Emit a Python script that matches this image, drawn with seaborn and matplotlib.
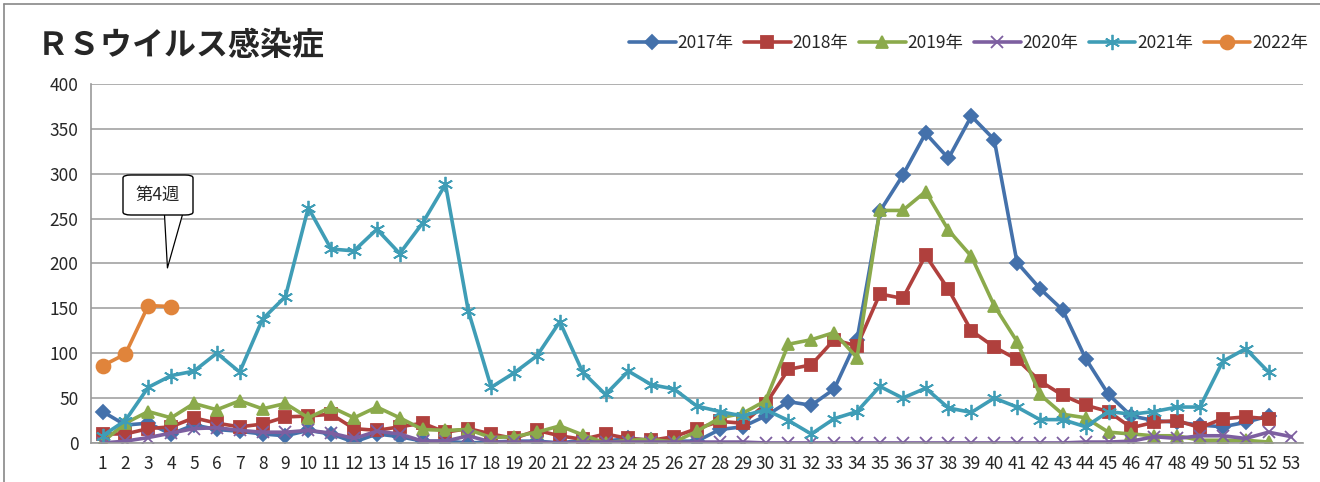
import numpy as np
import pandas as pd
import matplotlib
matplotlib.use("Agg")
import matplotlib.pyplot as plt
import seaborn as sns
from matplotlib.lines import Line2D
from matplotlib.patches import FancyBboxPatch

weeks = list(range(1, 54))

y2017 = [35, 20, 22, 10, 20, 15, 13, 10, 8, 14, 10, 1, 10, 7, 2, 2, 0, 1, 2, 2,
         0, 3, 2, 5, 3, 2, 2, 15, 18, 30, 46, 42, 60, 115, 258, 298, 345, 317, 364, 338,
         201, 172, 148, 94, 54, 30, 25, 23, 20, 18, 23, 30]
y2018 = [10, 10, 16, 18, 28, 22, 18, 21, 29, 30, 32, 16, 14, 18, 22, 12, 16, 10, 5, 14,
         8, 4, 10, 5, 3, 7, 16, 24, 22, 43, 82, 87, 115, 108, 166, 161, 209, 171, 125, 107,
         93, 69, 53, 42, 35, 17, 23, 25, 17, 27, 29, 27]
y2019 = [1, 22, 35, 28, 44, 37, 47, 38, 44, 28, 40, 28, 40, 28, 15, 14, 15, 6, 7, 12,
         19, 9, 0, 3, 4, 1, 13, 28, 33, 47, 110, 115, 123, 95, 259, 259, 280, 237, 208, 153,
         113, 54, 32, 28, 12, 10, 8, 8, 3, 3, 3, 1]
y2020 = [0, 2, 6, 11, 16, 17, 14, 12, 12, 14, 11, 5, 13, 10, 2, 2, 8, 1, 1, 1,
         0, 1, 1, 1, 1, 1, 1, 1, 1, 0, 0, 0, 0, 0, 0, 0, 0, 0, 0, 0,
         0, 0, 0, 1, 1, 2, 7, 5, 8, 8, 5, 12, 7]
y2021 = [8, 25, 62, 75, 80, 100, 79, 138, 163, 262, 216, 214, 238, 211, 245, 288, 147, 62, 78, 97,
         135, 79, 54, 80, 65, 60, 41, 35, 30, 37, 25, 10, 27, 35, 63, 50, 61, 39, 34, 50,
         40, 26, 26, 18, 35, 32, 35, 40, 40, 91, 105, 79]
y2022 = [86, 99, 153, 152]

series_names = ["2017年", "2018年", "2019年", "2020年", "2021年", "2022年"]
series_vals = [y2017, y2018, y2019, y2020, y2021, y2022]
colors = ["#4471AB", "#B0403D", "#8BAA4B", "#7D5FA0", "#3F9DB6", "#E0843B"]
markers = ["D", "s", "^", "x", (6, 2, 0), "o"]
msizes = [7, 9, 9, 9, 11, 10]

sns.set_theme(style="white")
plt.rcParams['font.family'] = ['Noto Sans CJK JP', 'DejaVu Sans']

fig = plt.figure(figsize=(13.2, 4.82), dpi=100)
ax = fig.add_axes([0.069, 0.081, 0.918, 0.745])

for name, vals, c, m, ms in zip(series_names, series_vals, colors, markers, msizes):
    df = pd.DataFrame({"week": weeks[:len(vals)], "count": vals})
    sns.lineplot(data=df, x="week", y="count", ax=ax, color=c, marker=m,
                 markersize=ms, linewidth=2.6, markeredgecolor=c,
                 markeredgewidth=1.3, label=name)

ax.set_xlim(0.5, 53.5)
ax.set_ylim(0, 400)
ax.set_yticks(np.arange(0, 401, 50))
ax.set_xticks(weeks)
ax.set_xticklabels([str(w) for w in weeks])
ax.set_xticks(np.arange(0.5, 54, 1), minor=True)
ax.tick_params(axis="x", which="major", length=0, pad=9, labelsize=12.5)
ax.tick_params(axis="x", which="minor", length=5, width=1, color="#999999", direction="out")
ax.tick_params(axis="y", which="major", length=5, width=1, color="#999999", labelsize=12.5, pad=4)
ax.grid(axis="y", color="#9a9a9a", linewidth=1.1)
ax.grid(axis="x", visible=False)
ax.set_axisbelow(True)
for s in ["top", "right"]:
    ax.spines[s].set_visible(False)
for s in ["left", "bottom"]:
    ax.spines[s].set_color("#999999")
    ax.spines[s].set_linewidth(1.2)
ax.set_xlabel("")
ax.set_ylabel("")

leg = ax.legend(loc="lower right", bbox_to_anchor=(1.01, 1.07), ncol=6, frameon=False,
                fontsize=12.5, handlelength=2.7, columnspacing=0.6, handletextpad=0.1,
                borderaxespad=0)

fig.text(0.028, 0.905, "ＲＳウイルス感染症", fontsize=23, fontweight="bold",
         va="center", ha="left")

# callout box (figure coords) and pointer (data coords)
box_x0, box_y0 = 123 / 1320, 1 - 215 / 482
box_w, box_h = 70 / 1320, 40 / 482
bbox = FancyBboxPatch((box_x0, box_y0), box_w, box_h,
                      boxstyle="round,pad=0,rounding_size=0.006",
                      transform=fig.transFigure, facecolor="white",
                      edgecolor="black", linewidth=1, zorder=5)
fig.patches.append(bbox)
fig.text(box_x0 + box_w / 2, box_y0 + box_h / 2, "第4週", fontsize=12.5,
         ha="center", va="center", zorder=6)
ptr_x = [3.71, 3.84, 4.5]
ptr_y = [254.5, 195, 254.5]
ax.fill(ptr_x, ptr_y, color="white", zorder=6, clip_on=False)
ax.plot(ptr_x, ptr_y, color="black", lw=0.9, zorder=7, clip_on=False)

# outer frame
fig.add_artist(Line2D([4 / 1320, 4 / 1320], [0, 1 - 4 / 482], transform=fig.transFigure,
                      color="#888888", lw=1.2))
fig.add_artist(Line2D([4 / 1320, 1], [1 - 4 / 482, 1 - 4 / 482], transform=fig.transFigure,
                      color="#888888", lw=1.2))

fig.savefig("out.png", dpi=100)
